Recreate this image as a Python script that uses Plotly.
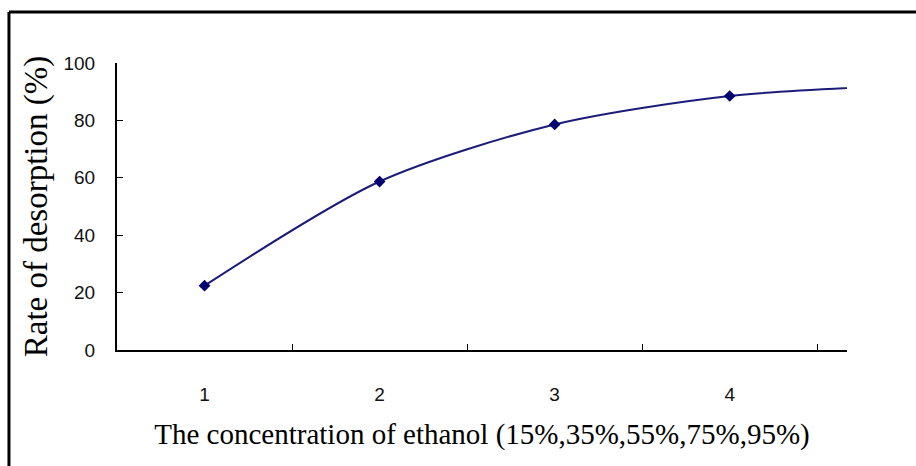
import plotly.graph_objects as go

categories = ["1", "2", "3", "4", "5"]
desorption_rate = [22.4, 58.7, 78.6, 88.5, 92.2]
y_ticks = [0, 20, 40, 60, 80, 100]
x_title = "The concentration of ethanol (15%,35%,55%,75%,95%)"
y_title = "Rate of desorption (%)"

fig = go.Figure()
fig.add_trace(go.Scatter(
    x=categories, y=desorption_rate, mode="lines+markers",
    line=dict(color="#1c1c78", width=2, shape="spline", smoothing=0.8),
    marker=dict(symbol="diamond", size=9, color="#00006e"),
    showlegend=False,
))

fig.update_layout(
    width=916, height=466,
    margin=dict(l=117, r=69, t=63, b=116),
    paper_bgcolor="white", plot_bgcolor="white",
    font=dict(family="Liberation Serif", color="black"),
)
fig.update_xaxes(
    type="category", categoryorder="array", categoryarray=categories,
    range=[-0.5, 3.67], tickson="boundaries",
    ticks="inside", ticklen=6, tickwidth=1, tickcolor="black",
    showline=True, linecolor="black", linewidth=2, showgrid=False, zeroline=False,
    tickfont=dict(family="Liberation Sans", size=19, color="#111"),
    ticklabelstandoff=26,
    title=dict(text=x_title, font=dict(family="Liberation Serif", size=29), standoff=20),
)
fig.update_yaxes(
    range=[0, 100], tickvals=y_ticks,
    ticks="inside", ticklen=6, tickwidth=1, tickcolor="black",
    showline=True, linecolor="black", linewidth=2, showgrid=False, zeroline=False,
    tickfont=dict(family="Liberation Sans", size=19, color="#111"),
    ticklabelstandoff=16,
    title=dict(text=y_title, font=dict(family="Liberation Serif", size=33), standoff=6),
)
# outer frame (left and top edges)
fig.add_shape(type="line", xref="paper", yref="paper", x0=-0.148, x1=-0.148, y0=1.178, y1=-0.41,
              line=dict(color="black", width=3))
fig.add_shape(type="line", xref="paper", yref="paper", x0=-0.148, x1=1.1, y0=1.178, y1=1.178,
              line=dict(color="black", width=3))

fig.write_html("out.html", config={"displayModeBar": False},
               post_script="document.body.style.margin='0';")
